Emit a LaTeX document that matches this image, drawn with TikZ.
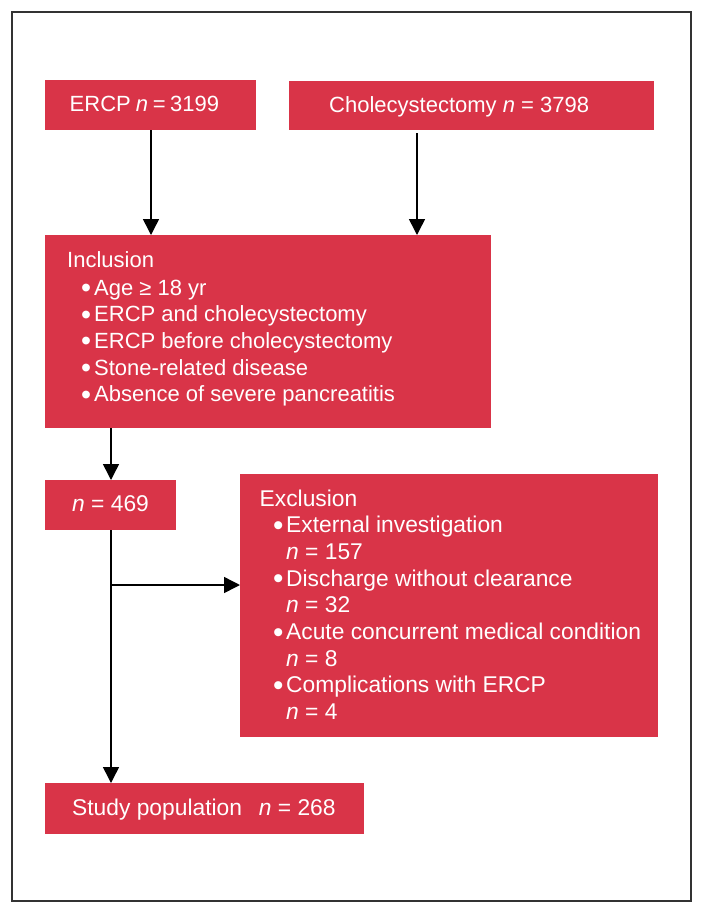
\documentclass[tikz,border=0pt]{standalone}
\usepackage{fontspec}
\setmainfont{Liberation Sans}
\usetikzlibrary{arrows.meta}
\definecolor{boxred}{RGB}{217,52,72}
\newcommand{\bul}{\makebox[13pt][l]{\raisebox{-2.6pt}{\scalebox{1.3}{•}}}}
\begin{document}
\begin{tikzpicture}[x=1pt,y=-1pt,
  box/.style={fill=boxred, draw=none, anchor=north west, inner sep=0pt, outer sep=0pt},
  txt/.style={text=white, anchor=base west, inner sep=0pt, font=\fontsize{22}{26.7}\selectfont},
  ctxt/.style={txt, font=\fontsize{22.8}{26.7}\selectfont},
  arr/.style={line width=1.5pt, -{Triangle[length=16pt,width=16pt]}},
  frame/.style={draw=black!80, line width=1.2pt}]
\useasboundingbox (0,0) rectangle (703,914);
\draw[frame] (12,12) rectangle (691,901);
% boxes
\node[box, minimum width=211pt, minimum height=50pt] (ercp) at (45,80) {};
\node[box, minimum width=365pt, minimum height=49pt] (chole) at (289,81) {};
\node[box, minimum width=446pt, minimum height=193pt] (incl) at (45,235) {};
\node[box, minimum width=131pt, minimum height=50pt] (n469) at (45,480) {};
\node[box, minimum width=418pt, minimum height=263pt] (excl) at (240,474) {};
\node[box, minimum width=319pt, minimum height=51pt] (study) at (45,783) {};
% texts
\node[txt] (t1) at (69.5,111.7) {ERCP\hspace{-1pt} \textit{n}\hspace{-1.5pt} =\hspace{-1.5pt} 3199};
\node[txt] (t2) at (329,112) {Cholecystectomy \textit{n} = 3798};
\node[txt] (t3) at (67,267.7) {Inclusion};
\foreach \y/\s [count=\i] in {295/Age ≥ 18 yr, 321.7/ERCP and cholecystectomy, 348.3/ERCP before cholecystectomy, 375/Stone-related disease, 401.7/Absence of severe pancreatitis}
  \node[txt] (inc\i) at (81,\y) {\bul\s};
\node[ctxt] (t4) at (72,511.7) {\textit{n} = 469};
\node[ctxt] (t5) at (259.5,506) {Exclusion};
\foreach \y/\s [count=\i] in {532.7/External investigation, 586/Discharge without clearance, 639.4/Acute concurrent medical condition, 692.7/Complications with ERCP}
  \node[ctxt] (exb\i) at (273,\y) {\bul\s};
\foreach \y/\s [count=\i] in {559.4/157, 612.7/32, 666/8, 719.4/4}
  \node[ctxt] (exn\i) at (286,\y) {\textit{n} = \s};
\node[ctxt] (t6) at (72,815) {\makebox[186.7pt][l]{Study population}\textit{n} = 268};
% connectors
\coordinate (a1) at (151,0);
\coordinate (a2) at (417,0);
\coordinate (a3) at (111,0);
\coordinate (br) at (111,585);
\draw[arr] (ercp.south -| a1) -- (incl.north -| a1);
\draw[arr, shorten <=3pt] (chole.south -| a2) -- (incl.north -| a2);
\draw[arr] (incl.south -| a3) -- (n469.north -| a3);
\draw[arr] (n469.south -| a3) -- (study.north -| a3);
\draw[arr] (br) -- (br -| excl.west);
\end{tikzpicture}
\end{document}
